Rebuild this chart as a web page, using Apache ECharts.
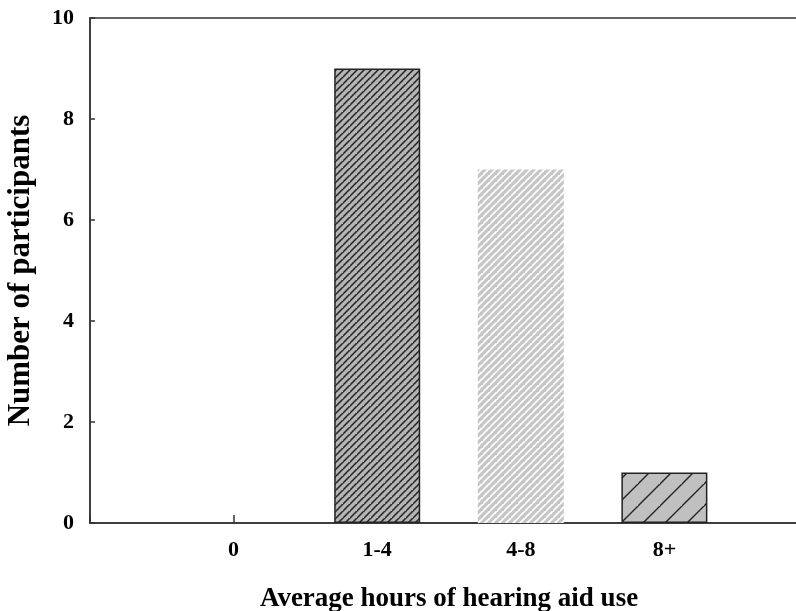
<!DOCTYPE html>
<html>
<head>
<meta charset="utf-8">
<script src="https://cdn.jsdelivr.net/npm/echarts@6/dist/echarts.min.js"></script>
<style>html,body{margin:0;padding:0;background:#fff}#c{width:796px;height:611px}</style>
</head>
<body>
<div id="c"></div>
<script>
const categories = ['0', '1-4', '4-8', '8+'];
const participants = [0, 9, 7, 1];
const yTicks = [0, 2, 4, 6, 8, 10];

function hatch(spacing, bg, fg, lw) {
  const c = document.createElement('canvas');
  c.width = spacing; c.height = spacing;
  const g = c.getContext('2d');
  g.fillStyle = bg; g.fillRect(0, 0, spacing, spacing);
  g.strokeStyle = fg; g.lineWidth = lw;
  g.beginPath();
  g.moveTo(-1, spacing + 1); g.lineTo(spacing + 1, -1);
  g.moveTo(-spacing - 1, spacing + 1); g.lineTo(1, -1);
  g.moveTo(spacing - 1, 2 * spacing + 1); g.lineTo(2 * spacing + 1, spacing - 1);
  g.stroke();
  return {image: c, repeat: 'repeat'};
}

const barStyles = [
  {color: 'transparent', borderWidth: 0},
  {color: hatch(7, '#b4b4b4', '#222', 1.5), borderColor: '#222', borderWidth: 1.5},
  {color: hatch(7, '#c6c6c6', '#ffffff', 1.8), borderWidth: 0},
  {color: hatch(22, '#c0c0c0', '#222', 1.4), borderColor: '#222', borderWidth: 1.5}
];

const font = 'Liberation Serif';
const chart = echarts.init(document.getElementById('c'));
chart.setOption({
  animation: false,
  grid: {left: 90, top: 18, bottom: 88, right: -12, outerBoundsMode: 'none', containLabel: false,
         show: true, borderColor: '#333', borderWidth: 1.5},
  xAxis: {
    type: 'value', min: -1, max: 4, interval: 1,
    splitLine: {show: false},
    axisLine: {show: true, onZero: false, lineStyle: {color: '#333', width: 1.5}},
    axisTick: {show: true, inside: true, length: 8, lineStyle: {color: '#333', width: 1.5}},
    axisLabel: {
      fontFamily: font, fontWeight: 'bold', fontSize: 22, color: '#000', margin: 16,
      formatter: v => (v >= 0 && v < categories.length) ? categories[v] : ''
    },
    name: 'Average hours of hearing aid use', nameLocation: 'middle', nameGap: 63,
    nameTextStyle: {fontFamily: font, fontWeight: 'bold', fontSize: 27, color: '#000'}
  },
  yAxis: {
    type: 'value', min: yTicks[0], max: yTicks[yTicks.length - 1], interval: 2,
    splitLine: {show: false},
    axisLine: {show: true, onZero: false, lineStyle: {color: '#333', width: 1.5}},
    axisTick: {show: true, inside: true, length: 5, lineStyle: {color: '#333', width: 1.5}},
    axisLabel: {fontFamily: font, fontWeight: 'bold', fontSize: 22, color: '#000', margin: 16},
    name: 'Number of participants', nameLocation: 'middle', nameGap: 54,
    nameTextStyle: {fontFamily: font, fontWeight: 'bold', fontSize: 31, color: '#000'}
  },
  series: [{
    type: 'bar', barWidth: 86,
    data: participants.map((v, i) => ({value: [i, v], itemStyle: barStyles[i]}))
  }]
});
</script>
</body>
</html>
